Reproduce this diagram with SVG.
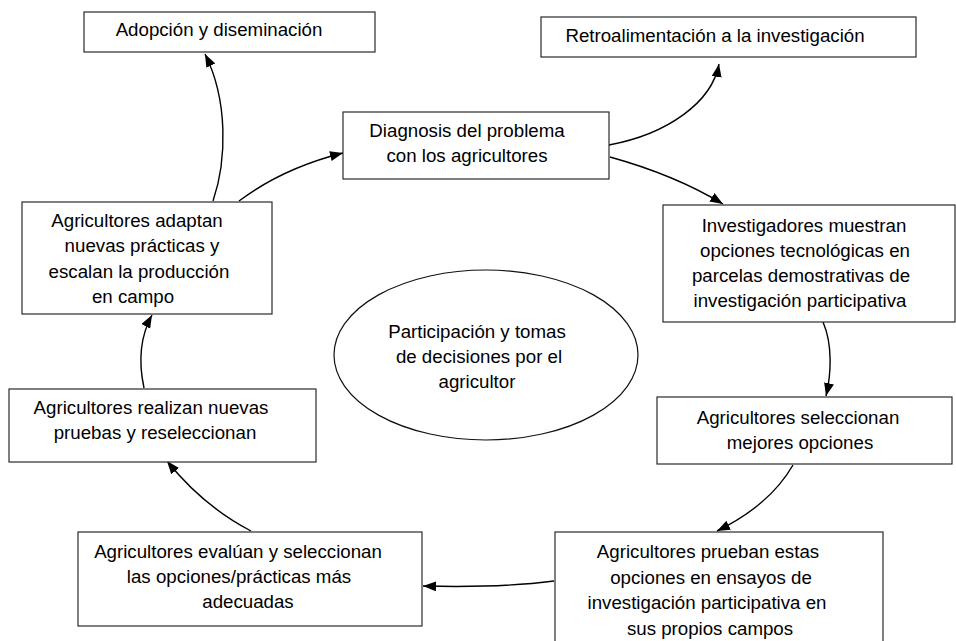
<svg xmlns="http://www.w3.org/2000/svg" width="956" height="641" viewBox="0 0 956 641">
  <defs>
    <style>
      .box { fill: #ffffff; stroke: #2a2a2a; stroke-width: 1.2; }
      .oval { fill: #ffffff; stroke: #111111; stroke-width: 1.2; }
      .lbl { font-family: "Liberation Sans", Arial, sans-serif; font-size: 18.7px; fill: #000000; text-anchor: middle; }
      .flow { fill: none; stroke: #000000; stroke-width: 1.4; marker-end: url(#head); }
    </style>
    <marker id="head" markerUnits="userSpaceOnUse" markerWidth="14" markerHeight="12" refX="13" refY="5" orient="auto">
      <path d="M0,0 L13,5 L0,10 Z" fill="#000000"/>
    </marker>
  </defs>
  <rect width="956" height="641" fill="#ffffff"/>

  <!-- connectors -->
  <g id="connectors">
    <path class="flow" d="M213,201 C227,160 228,100 205,54"/>
    <path class="flow" d="M239,201 Q283,168 343,153"/>
    <path class="flow" d="M609,145 C668,134 712,102 719,64"/>
    <path class="flow" d="M610,157 Q675,175 723,204"/>
    <path class="flow" d="M823,322 C833,345 831,375 826,396"/>
    <path class="flow" d="M793,465 Q770,505 717,531"/>
    <path class="flow" d="M554,581 Q500,588 423,586"/>
    <path class="flow" d="M251,531 Q203,506 167,461"/>
    <path class="flow" d="M144,388 C138,360 141,335 152,315"/>
  </g>

  <!-- nodes -->
  <g id="adopcion">
    <rect class="box" x="84" y="12" width="291" height="40"/>
    <text class="lbl" x="219" y="36">Adopción y diseminación</text>
  </g>

  <g id="retroalimentacion">
    <rect class="box" x="541" y="17" width="375" height="40"/>
    <text class="lbl" x="715" y="42">Retroalimentación a la investigación</text>
  </g>

  <g id="diagnosis">
    <rect class="box" x="343" y="112" width="266" height="67"/>
    <text class="lbl" x="467" y="137">Diagnosis del problema</text>
    <text class="lbl" x="467" y="162">con los agricultores</text>
  </g>

  <g id="investigadores">
    <rect class="box" x="663" y="205" width="292" height="117"/>
    <text class="lbl" x="804" y="232">Investigadores muestran</text>
    <text class="lbl" x="805" y="257">opciones tecnológicas en</text>
    <text class="lbl" x="801" y="282">parcelas demostrativas de</text>
    <text class="lbl" x="800" y="307">investigación participativa</text>
  </g>

  <g id="seleccionan">
    <rect class="box" x="657" y="397" width="295" height="67"/>
    <text class="lbl" x="798" y="424">Agricultores seleccionan</text>
    <text class="lbl" x="800" y="449">mejores opciones</text>
  </g>

  <g id="prueban">
    <rect class="box" x="555" y="532" width="328" height="116"/>
    <text class="lbl" x="708" y="558">Agricultores prueban estas</text>
    <text class="lbl" x="711" y="584">opciones en ensayos de</text>
    <text class="lbl" x="707" y="609">investigación participativa en</text>
    <text class="lbl" x="710" y="635">sus propios campos</text>
  </g>

  <g id="evaluan">
    <rect class="box" x="78" y="532" width="344" height="94"/>
    <text class="lbl" x="238" y="558">Agricultores evalúan y seleccionan</text>
    <text class="lbl" x="239" y="583">las opciones/prácticas más</text>
    <text class="lbl" x="248" y="608">adecuadas</text>
  </g>

  <g id="realizan">
    <rect class="box" x="9" y="389" width="307" height="73"/>
    <text class="lbl" x="151" y="414">Agricultores realizan nuevas</text>
    <text class="lbl" x="155" y="439">pruebas y reseleccionan</text>
  </g>

  <g id="adaptan">
    <rect class="box" x="22" y="202" width="250" height="112"/>
    <text class="lbl" x="137" y="227">Agricultores adaptan</text>
    <text class="lbl" x="142" y="252">nuevas prácticas y</text>
    <text class="lbl" x="139" y="278">escalan la producción</text>
    <text class="lbl" x="133" y="303">en campo</text>
  </g>

  <g id="participacion">
    <ellipse class="oval" cx="486" cy="355" rx="152" ry="85"/>
    <text class="lbl" x="477" y="338">Participación y tomas</text>
    <text class="lbl" x="479" y="363">de decisiones por el</text>
    <text class="lbl" x="477" y="388">agricultor</text>
  </g>
</svg>
